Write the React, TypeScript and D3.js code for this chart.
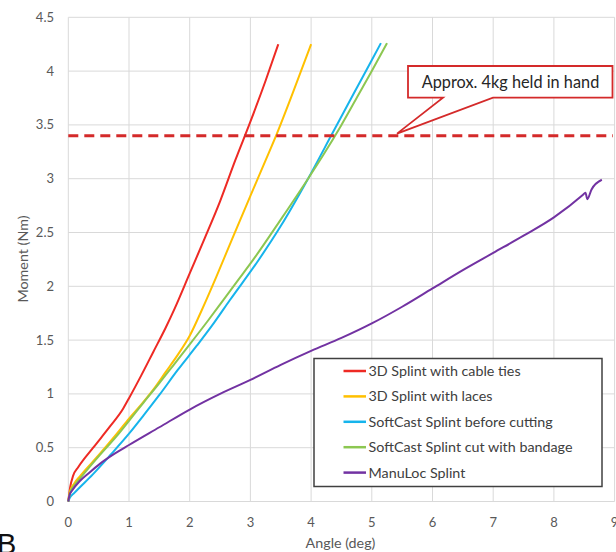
import React from "react";
import * as d3 from "d3";

const W = 616;
const H = 552;

const xTicks = [0, 1, 2, 3, 4, 5, 6, 7, 8, 9];
const yTicks = [0, 0.5, 1, 1.5, 2, 2.5, 3, 3.5, 4, 4.5];

const seriesNames = [
  "3D Splint with cable ties",
  "3D Splint with laces",
  "SoftCast Splint before cutting",
  "SoftCast Splint cut with bandage",
  "ManuLoc Splint",
];
const seriesColors = ["#ee2a24", "#ffc000", "#16b4ec", "#8cc751", "#7232a2"];

const redX = [0, 0.03, 0.08, 0.165, 0.41, 0.69, 0.9, 1.0, 1.2, 1.4, 1.6, 1.75, 2.0, 2.25, 2.5, 2.75, 3.0, 3.25, 3.46];
const redY = [0, 0.13, 0.24, 0.32, 0.5, 0.7, 0.86, 0.96, 1.17, 1.39, 1.61, 1.79, 2.12, 2.45, 2.79, 3.17, 3.53, 3.91, 4.25];

const yellowX = [0, 0.03, 0.1, 0.2, 0.5, 0.8, 1.0, 1.2, 1.4, 1.6, 1.8, 2.0, 2.2, 2.44, 2.7, 3.0, 3.25, 3.43, 3.7, 4.0];
const yellowY = [0, 0.1, 0.17, 0.24, 0.43, 0.63, 0.77, 0.9, 1.04, 1.2, 1.36, 1.54, 1.78, 2.09, 2.44, 2.84, 3.17, 3.41, 3.8, 4.25];

const blueX = [0, 0.02, 0.1, 0.4, 0.69, 1.0, 1.24, 1.5, 1.8, 2.12, 2.4, 2.66, 3.13, 3.5, 3.95, 4.34, 4.7, 4.97, 5.15];
const blueY = [0, 0.03, 0.08, 0.25, 0.43, 0.63, 0.8, 0.99, 1.22, 1.45, 1.66, 1.87, 2.24, 2.56, 3.0, 3.41, 3.79, 4.07, 4.26];

const greenX = [0, 0.03, 0.1, 0.2, 0.5, 0.8, 1.0, 1.24, 1.5, 1.75, 2.0, 2.3, 2.55, 2.8, 3.05, 3.5, 3.95, 4.2, 4.5, 4.75, 5.0, 5.25];
const greenY = [0, 0.08, 0.15, 0.22, 0.42, 0.61, 0.75, 0.92, 1.1, 1.28, 1.46, 1.68, 1.87, 2.06, 2.25, 2.62, 3.0, 3.22, 3.5, 3.75, 4.0, 4.26];

const purpleX = [0, 0.02, 0.06, 0.19, 0.35, 0.52, 0.75, 1.0, 1.5, 2.0, 2.5, 3.0, 3.5, 4.0, 4.5, 5.0, 5.5, 6.0, 6.5, 7.0, 7.5, 8.0, 8.48, 8.52, 8.55, 8.62, 8.79];
const purpleY = [0, 0.06, 0.1, 0.19, 0.27, 0.35, 0.44, 0.525, 0.69, 0.855, 1.0, 1.13, 1.27, 1.4, 1.52, 1.655, 1.81, 1.98, 2.15, 2.31, 2.47, 2.64, 2.85, 2.87, 2.81, 2.9, 2.99];

const seriesX = [redX, yellowX, blueX, greenX, purpleX];
const seriesY = [redY, yellowY, blueY, greenY, purpleY];

const thresholdValue = 3.4;
const annotationText = "Approx. 4kg held in hand";
const xTitle = "Angle (deg)";
const yTitle = "Moment (Nm)";

const FONT = "Lato, 'Open Sans', sans-serif";

export default function App() {
  const left = 68.3;
  const right = 613;
  const top = 17.3;
  const bottom = 501.5;
  const x = d3.scaleLinear().domain([0, 9]).range([left, left + 9 * 60.7]);
  const y = d3.scaleLinear().domain([0, 4.5]).range([bottom, top]);
  const line = d3
    .line<[number, number]>()
    .x((d) => x(d[0]))
    .y((d) => y(d[1]))
    .curve(d3.curveMonotoneX);

  const yThr = y(thresholdValue);
  const lx = 314;
  const ly = 358.5;
  const lw = 288;
  const lh = 128;

  return (
    <svg
      width={W}
      height={H}
      style={{ position: "absolute", left: 0, top: 0, background: "#fff" }}
      fontFamily={FONT}
    >
      <rect width={W} height={H} fill="#fff" />
      {xTicks.map((t) => (
        <line key={"gx" + t} x1={x(t)} x2={x(t)} y1={y(4.5)} y2={y(0)} stroke="#d9d9d9" strokeWidth={1} />
      ))}
      {yTicks.map((t) => (
        <line key={"gy" + t} x1={x(0)} x2={x(9)} y1={y(t)} y2={y(t)} stroke="#d9d9d9" strokeWidth={1} />
      ))}
      {xTicks.map((t) => (
        <text key={"tx" + t} x={x(t)} y={527} textAnchor="middle" fontSize={13} fill="#595959">
          {t}
        </text>
      ))}
      {yTicks.map((t) => (
        <text key={"ty" + t} x={54} y={y(t) + 4.5} textAnchor="end" fontSize={13} fill="#595959">
          {t}
        </text>
      ))}
      <text x={340.5} y={548} textAnchor="middle" fontSize={14.3} fill="#595959">
        {xTitle}
      </text>
      <text transform={`translate(27.5,259) rotate(-90)`} textAnchor="middle" fontSize={14.3} fill="#595959">
        {yTitle}
      </text>
      {seriesX.map((xs, i) => (
        <path
          key={"s" + i}
          d={line(xs.map((v, j) => [v, seriesY[i][j]] as [number, number])) || ""}
          fill="none"
          stroke={seriesColors[i]}
          strokeWidth={2}
          strokeLinejoin="round"
        />
      ))}
      <line
        x1={x(0)}
        x2={right}
        y1={yThr}
        y2={yThr}
        stroke="#d42a2a"
        strokeWidth={3}
        strokeDasharray="10,6"
      />
      <path
        d={`M408,66 H612.5 V97.7 H493 L397,${yThr - 2} L443,97.7 H408 Z`}
        fill="#fff"
        stroke="#d42a2a"
        strokeWidth={1.8}
        strokeLinejoin="miter"
      />
      <text x={510.5} y={87.5} textAnchor="middle" fontSize={16.3} fill="#262626">
        {annotationText}
      </text>
      <rect x={lx} y={ly} width={lw} height={lh} fill="#fff" stroke="#404040" strokeWidth={1.5} />
      {seriesNames.map((n, i) => (
        <g key={"l" + i} transform={`translate(0,${371 + i * 25.4})`}>
          <line x1={343.5} x2={366} y1={0} y2={0} stroke={seriesColors[i]} strokeWidth={2.5} />
          <text x={368.5} y={5} fontSize={14.3} fill="#404040">
            {n}
          </text>
        </g>
      ))}
      <text x={-3} y={554} fontSize={29} fill="#111" fontFamily="'Liberation Sans', Arial, sans-serif">
        B
      </text>
    </svg>
  );
}
